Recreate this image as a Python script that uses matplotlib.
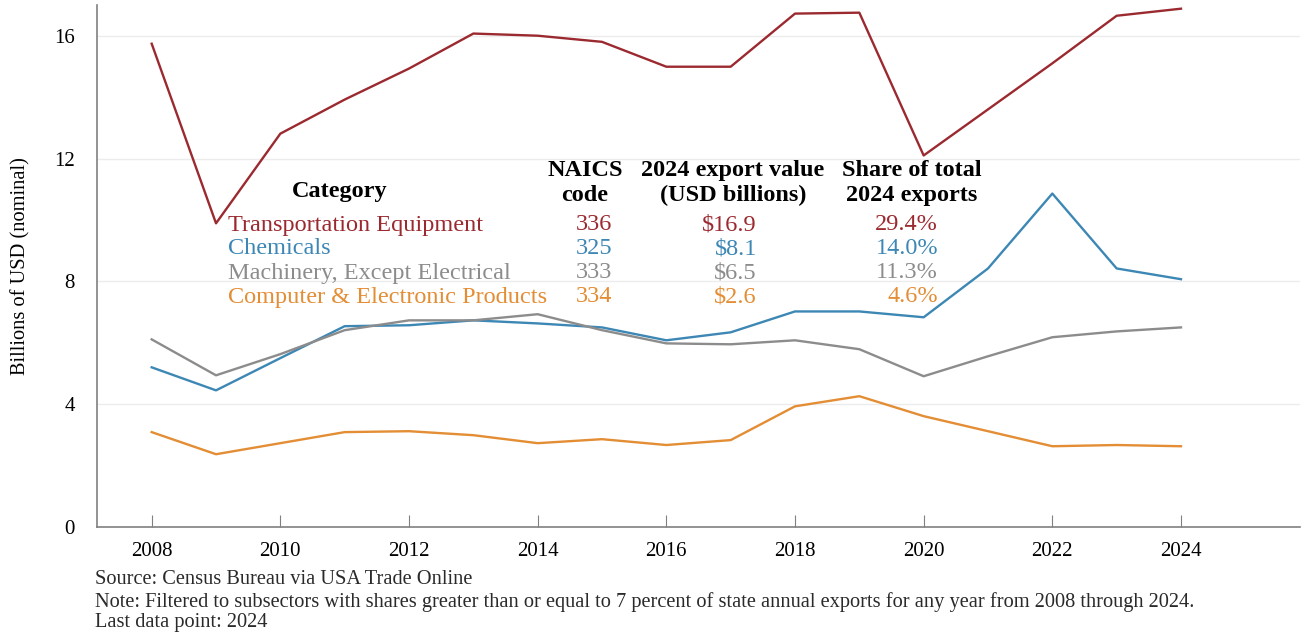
import matplotlib
matplotlib.use("Agg")
import matplotlib.pyplot as plt

plt.rcParams['font.family'] = ['Liberation Serif', 'DejaVu Serif']

years = list(range(2008, 2025))
transport = [15.74, 9.89, 12.81, 13.92, 14.93, 16.07, 16.0, 15.8, 14.99, 14.99,
             16.72, 16.75, 12.1, 13.6, 15.1, 16.65, 16.88]
chemicals = [5.2, 4.45, 5.5, 6.54, 6.57, 6.73, 6.63, 6.5, 6.08, 6.34,
             7.02, 7.02, 6.83, 8.42, 10.86, 8.42, 8.07]
machinery = [6.11, 4.94, 5.63, 6.41, 6.73, 6.73, 6.93, 6.41, 5.98, 5.95,
             6.08, 5.79, 4.91, 5.56, 6.18, 6.37, 6.5]
computer = [3.09, 2.37, 2.73, 3.09, 3.12, 2.99, 2.73, 2.86, 2.67, 2.83,
            3.93, 4.26, 3.61, 3.12, 2.63, 2.67, 2.63]

categories = ["Transportation Equipment", "Chemicals",
              "Machinery, Except Electrical", "Computer & Electronic Products"]
naics = ["336", "325", "333", "334"]
value_2024 = ["$16.9", "$8.1", "$6.5", "$2.6"]
share_2024 = ["29.4%", "14.0%", "11.3%", "4.6%"]
colors = ["#9b2a30", "#3d87b5", "#8c8c8c", "#e38d34"]
series = [transport, chemicals, machinery, computer]

fig = plt.figure(figsize=(13.09, 6.34), dpi=100)
ax = fig.add_axes([97 / 1309, 1 - 527 / 634, (1300 - 97) / 1309, (527 - 5) / 634])

# lines
for s, c in zip(series, colors):
    ax.plot(years, s, color=c, linewidth=1.7)

ax.set_xlim(2007.15, 2025.85)
ax.set_ylim(0, 17)
ax.set_xticks(range(2008, 2025, 2))
ax.set_yticks([0, 4, 8, 12, 16])
ax.grid(axis='y', color='#ececec', linewidth=1)
ax.set_axisbelow(True)

for sp in ['top', 'right']:
    ax.spines[sp].set_visible(False)
for sp in ['left', 'bottom']:
    ax.spines[sp].set_color('#808080')
    ax.spines[sp].set_linewidth(1.2)
ax.tick_params(axis='x', direction='in', length=9, color='#808080', labelsize=15, pad=11)
ax.tick_params(axis='y', length=0, labelsize=15, pad=16)
ax.set_ylabel("Billions of USD (nominal)", fontsize=14.7, labelpad=17)

# table inside the plot
def px(x, y):
    return x / 1309, 1 - y / 634

fs = 17.5
hdr = dict(fontsize=fs, fontweight='bold', ha='center', va='center', transform=fig.transFigure)
fig.text(*px(340, 192), "Category", **hdr)
fig.text(*px(585, 183), "NAICS\ncode", linespacing=1.2, **hdr)
fig.text(*px(733, 183), "2024 export value\n(USD billions)", linespacing=1.2, **hdr)
fig.text(*px(912, 183), "Share of total\n2024 exports", linespacing=1.2, **hdr)

row_y = [225, 249, 273, 297]
for i in range(4):
    kw = dict(fontsize=fs, color=colors[i], va='center', transform=fig.transFigure)
    fig.text(*px(228, row_y[i]), categories[i], ha='left', **kw)
    fig.text(*px(612, row_y[i]), naics[i], ha='right', **kw)
    fig.text(*px(757, row_y[i]), value_2024[i], ha='right', **kw)
    fig.text(*px(938, row_y[i]), share_2024[i], ha='right', **kw)

# footer
foot = dict(fontsize=14.7, va='center', color='#2a2a2a')
fig.text(*px(95, 580), "Source: Census Bureau via USA Trade Online", **foot)
fig.text(*px(95, 602), "Note: Filtered to subsectors with shares greater than or equal to 7 percent "
         "of state annual exports for any year from 2008 through 2024.", **foot)
fig.text(*px(95, 622), "Last data point: 2024", **foot)

fig.savefig("out.png", dpi=100)
